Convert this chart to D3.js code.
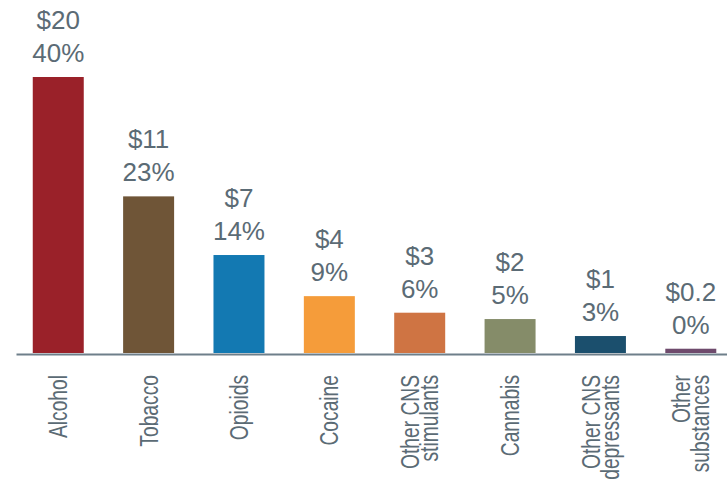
<!DOCTYPE html>
<html>
<head>
<meta charset="utf-8">
<script src="https://cdn.jsdelivr.net/npm/d3@7"></script>
<style>
  html, body { margin: 0; padding: 0; background: #ffffff; }
  svg { display: block; }
</style>
</head>
<body>
<svg id="chart" width="727" height="480"></svg>
<script>
// ---- Data ----
const categories = ["Alcohol", "Tobacco", "Opioids", "Cocaine", "Other CNS stimulants", "Cannabis", "Other CNS depressants", "Other substances"];
const categoryLines = [["Alcohol"], ["Tobacco"], ["Opioids"], ["Cocaine"], ["Other CNS", "stimulants"], ["Cannabis"], ["Other CNS", "depressants"], ["Other", "substances"]];
const values = [20.0, 11.35, 7.1, 4.12, 2.92, 2.46, 1.23, 0.31];
const valueLabels = ["$20", "$11", "$7", "$4", "$3", "$2", "$1", "$0.2"];
const percentLabels = ["40%", "23%", "14%", "9%", "6%", "5%", "3%", "0%"];
const colors = ["#9a2129", "#6f5537", "#1379b2", "#f59c3a", "#cf7443", "#858c69", "#1b4f6d", "#6e4a6c"];

const textColor = "#5b6b75";
const svg = d3.select("#chart");

const x = d3.scaleBand()
  .domain(categories)
  .range([16, 727])
  .paddingInner(0.4357)
  .paddingOuter(0.152)
  .align(0.61);

const y = d3.scaleLinear()
  .domain([0, 20])
  .range([353, 77]);

// Bars
svg.append("g").selectAll("rect")
  .data(categories)
  .join("rect")
  .attr("x", d => x(d))
  .attr("y", (d, i) => y(values[i]))
  .attr("width", x.bandwidth())
  .attr("height", (d, i) => y(0) - y(values[i]))
  .attr("fill", (d, i) => colors[i]);

// Axis
const axis = svg.append("g")
  .attr("transform", `translate(0,${y(0) + 1})`)
  .call(d3.axisBottom(x).tickSize(0).tickSizeOuter(0).tickFormat(""));
axis.select(".domain").attr("stroke", "#6e7f8a").attr("stroke-width", 2);

// Rotated category labels
const fs = 26, squeeze = 0.74, lineGap = 19;
categories.forEach((c, i) => {
  const cx = x(c) + x.bandwidth() / 2;
  const lines = categoryLines[i];
  const n = lines.length;
  const t = svg.append("text")
    .attr("transform", `translate(${cx},375) rotate(-90) scale(${squeeze},1)`)
    .attr("text-anchor", "end")
    .attr("font-family", "'Liberation Sans', Arial, Helvetica, sans-serif")
    .attr("font-size", fs)
    .attr("fill", textColor);
  lines.forEach((ln, j) => {
    const base = 9 - (n - 1) * lineGap / 2 + j * lineGap;
    t.append("tspan").attr("x", 0).attr("y", base).text(ln);
  });
});

// Value labels above bars
const labels = svg.append("g")
  .attr("font-family", "'Liberation Sans', Arial, Helvetica, sans-serif")
  .attr("font-size", 26)
  .attr("fill", textColor)
  .attr("text-anchor", "middle");

categories.forEach((c, i) => {
  const cx = x(c) + x.bandwidth() / 2;
  const top = y(values[i]);
  labels.append("text").attr("x", cx).attr("y", top - 48).text(valueLabels[i]);
  labels.append("text").attr("x", cx).attr("y", top - 15).text(percentLabels[i]);
});
</script>
</body>
</html>
